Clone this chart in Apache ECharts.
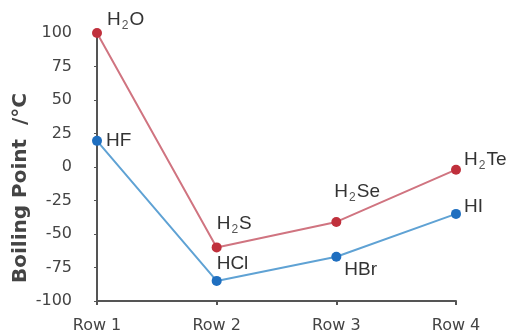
<!DOCTYPE html>
<html><head><meta charset="utf-8">
<script src="https://cdn.jsdelivr.net/npm/echarts@6/dist/echarts.min.js"></script>
<style>html,body{margin:0;padding:0;background:#fff}#c{width:510px;height:336px}</style>
</head><body><div id="c"></div>
<script>
const categories = ['Row 1', 'Row 2', 'Row 3', 'Row 4'];
const hydrideValues = [100, -60, -41, -2];
const hydrideNames = ['{n|H}{s|2}{n|O}', '{n|H}{s|2}{n|S}', '{n|H}{s|2}{n|Se}', '{n|H}{s|2}{n|Te}'];
const halideValues = [19.5, -85, -67, -35];
const halideNames = ['{n|HF}', '{n|HCl}', '{n|HBr}', '{n|HI}'];
const yTicks = { min: -100, max: 100, interval: 25 };

const rich = {
  n: { fontSize: 19, color: '#333', fontFamily: 'Liberation Sans' },
  s: { fontSize: 12, color: '#555', fontFamily: 'Liberation Sans', padding: [12, 1, 0, 1] }
};
const hydOffsets = [[0, -13], [-10, -24], [-12, -30], [-2, -10]];
const halOffsets = [[-1, 0], [-10, -17], [-2, 13], [-2, -7]];

function build(values, names, offsets) {
  return values.map((v, i) => ({
    value: v,
    label: { show: true, position: 'right', offset: offsets[i], formatter: names[i], rich: rich }
  }));
}

const chart = echarts.init(document.getElementById('c'), null, { renderer: 'canvas' });
chart.setOption({
  animation: false,
  grid: { left: 97, right: 54, top: 33, bottom: 35, containLabel: false, outerBoundsMode: 'none' },
  xAxis: {
    type: 'category', data: categories, boundaryGap: false,
    axisLine: { onZero: false, lineStyle: { color: '#555', width: 2 } },
    axisTick: { show: true, length: 4, lineStyle: { color: '#555', width: 2 } },
    axisLabel: { margin: 17, fontSize: 16, color: '#444', fontFamily: 'DejaVu Sans' },
    splitLine: { show: false }
  },
  yAxis: {
    type: 'value', min: yTicks.min, max: yTicks.max, interval: yTicks.interval,
    name: 'Boiling Point  /°C', nameLocation: 'middle', nameGap: 66, nameMoveOverlap: false,
    nameTextStyle: { fontSize: 20, fontWeight: 'bold', color: '#444', fontFamily: 'DejaVu Sans', padding: [0, 42, 0, 0] },
    axisLine: { show: true, lineStyle: { color: '#555', width: 2 } },
    axisTick: { show: true, length: 3, lineStyle: { color: '#555' } },
    axisLabel: { margin: 25, fontSize: 16, color: '#444', fontFamily: 'DejaVu Sans' },
    splitLine: { show: false }
  },
  series: [
    {
      type: 'line', data: build(hydrideValues, hydrideNames, hydOffsets),
      symbol: 'circle', symbolSize: 10,
      itemStyle: { color: '#c0303c' },
      lineStyle: { color: '#d07480', width: 2 }
    },
    {
      type: 'line', data: build(halideValues, halideNames, halOffsets),
      symbol: 'circle', symbolSize: 10,
      itemStyle: { color: '#1f6fc0' },
      lineStyle: { color: '#5fa2d4', width: 2 }
    }
  ]
});
</script></body></html>
